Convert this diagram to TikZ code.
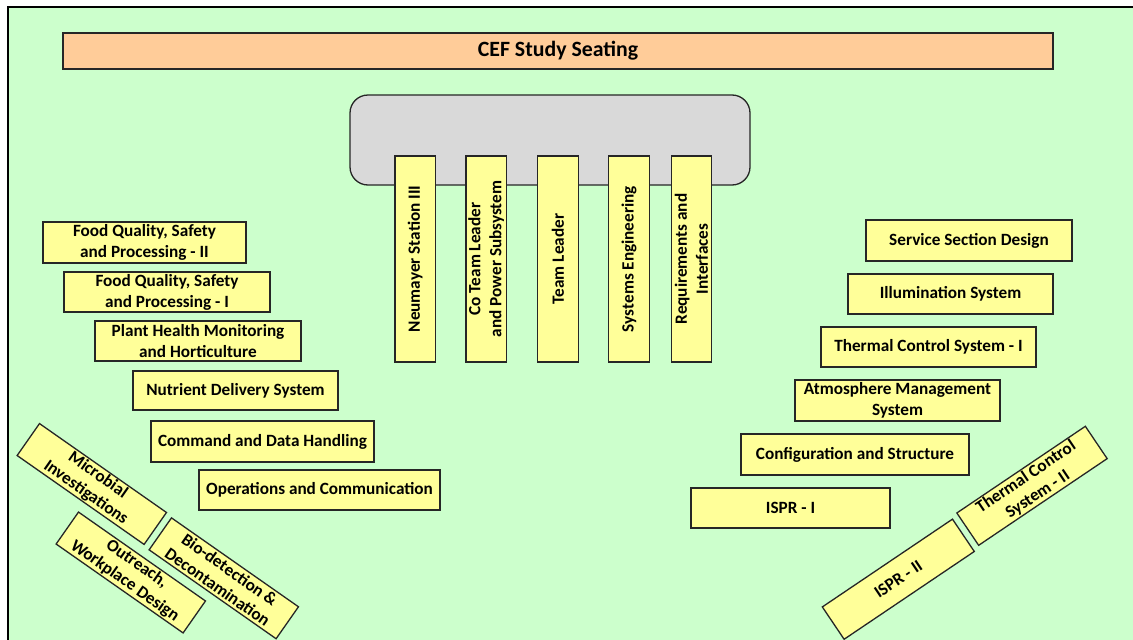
\documentclass[tikz,border=0pt]{standalone}
\usepackage{fontspec}
\setmainfont{Carlito}
\definecolor{bggreen}{HTML}{CCFFCC}
\definecolor{boxyellow}{HTML}{FFFF99}
\definecolor{titleorange}{HTML}{FFCC99}
\definecolor{panelgray}{HTML}{D9D9D9}
\definecolor{edge}{HTML}{262626}
\tikzset{
  box/.style={draw=edge, line width=1.3pt, fill=boxyellow, inner sep=0pt, align=center,
    font=\bfseries\fontsize{17.2}{21}\selectfont, text=black},
  vbox/.style={box, rotate=90, minimum width=206pt, minimum height=40.5pt},
  tbox/.style={box, minimum width=155pt, minimum height=39pt}
}
\begin{document}
\begin{tikzpicture}[x=1pt,y=-1pt]
\useasboundingbox (0,0) rectangle (1133,640);
\clip (0,0) rectangle (1133,640);
\draw[line width=1.8pt, draw=black, fill=bggreen] (8,7) rectangle (1150,660);
% title
\node[box, fill=titleorange, minimum width=990pt, minimum height=36pt,
  font=\bfseries\fontsize{21.8}{26}\selectfont] (title) at (558,51) {CEF Study Seating};
% table
\draw[draw=edge, line width=1.3pt, fill=panelgray, rounded corners=18pt] (350,95) rectangle (750,185);
\coordinate (table) at (550,140);
% vertical boxes
\node[vbox] (neu) at (415.3,259) {Neumayer Station III};
\node[vbox] (cotl) at (486.3,259) {Co Team Leader\\and Power Subsystem};
\node[vbox] (tl) at (558,259) {Team Leader};
\node[vbox] (se) at (629,259) {Systems Engineering};
\node[vbox] (ri) at (691.5,259) {Requirements and\\Interfaces};
% left boxes
\node[box, minimum width=203pt, minimum height=41pt] (fq2) at (144.5,242.5) {Food Quality, Safety\\and Processing - II};
\node[box, minimum width=206pt, minimum height=40pt] (fq1) at (167,292) {Food Quality, Safety\\and Processing - I};
\node[box, minimum width=206pt, minimum height=40pt] (ph) at (198,341) {Plant Health Monitoring\\and Horticulture};
\node[box, minimum width=205pt, minimum height=39pt] (nd) at (235.5,390.5) {Nutrient Delivery System};
\node[box, minimum width=223pt, minimum height=41pt] (cdh) at (262.5,441.5) {Command and Data Handling};
\node[box, minimum width=241pt, minimum height=40pt] (oc) at (319.5,490) {Operations and Communication};
% right boxes
\node[box, minimum width=206pt, minimum height=41pt] (ssd) at (969,240.5) {Service Section Design};
\node[box, minimum width=205pt, minimum height=40pt] (ill) at (950.5,294) {Illumination System};
\node[box, minimum width=215pt, minimum height=40pt] (tc1) at (928.5,347) {Thermal Control System - I};
\node[box, minimum width=205pt, minimum height=41pt] (atm) at (897.5,400.5) {Atmosphere Management\\System};
\node[box, minimum width=228pt, minimum height=41pt] (cfg) at (855,454.5) {Configuration and Structure};
\node[box, minimum width=199pt, minimum height=40pt] (ispr1) at (790.5,508) {ISPR - I};
% rotated boxes
\node[tbox, rotate=-35] (mic) at (91.8,484) {Microbial\\Investigations};
\node[tbox, rotate=-35] (bio) at (223.8,578.3) {Bio-detection \&\\Decontamination};
\node[tbox, rotate=-35] (out) at (130.8,572.5) {Outreach,\\Workplace Design};
\node[tbox, rotate=34] (tc2) at (1032,485.8) {Thermal Control\\System - II};
\node[tbox, rotate=34, minimum width=157pt] (ispr2) at (898.3,579.2) {ISPR - II};
\end{tikzpicture}
\end{document}
